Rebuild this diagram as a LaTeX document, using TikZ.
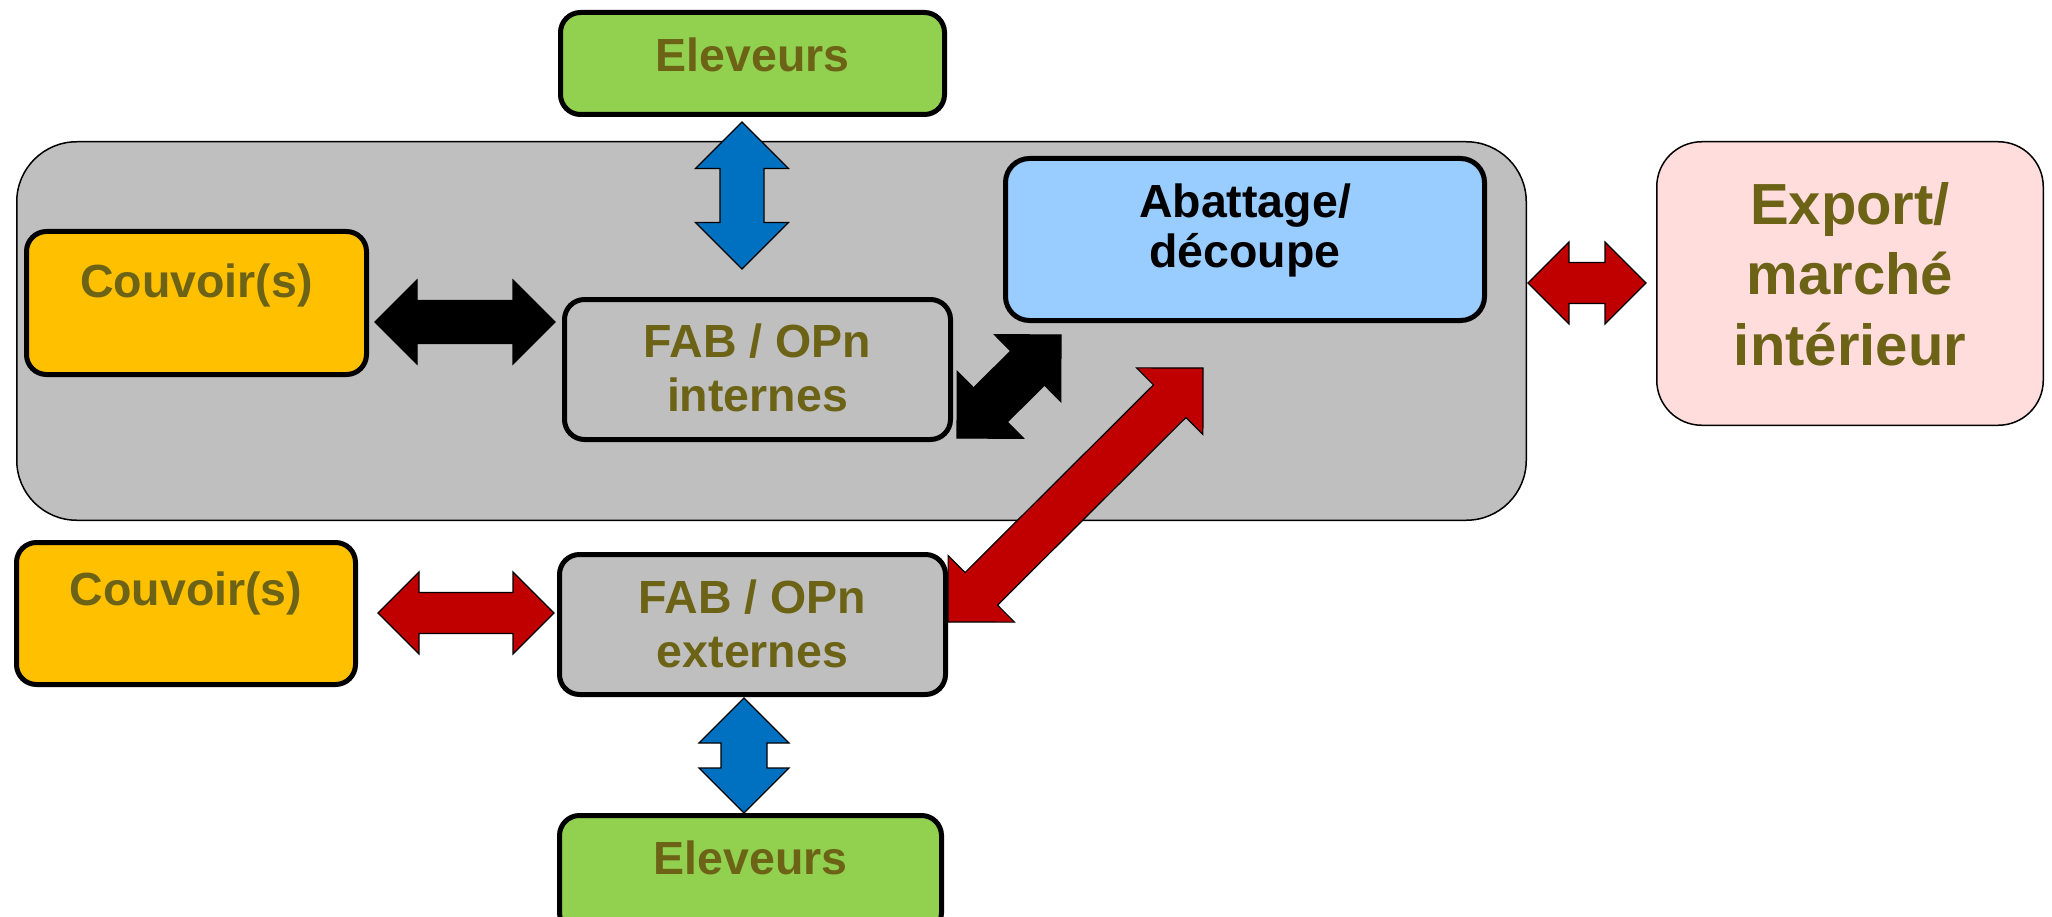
\documentclass[tikz,border=0pt]{standalone}
\usepackage{fontspec}
\setmainfont{Liberation Sans}
\usetikzlibrary{calc}
\definecolor{txtolive}{RGB}{108,99,22}
\definecolor{coregray}{RGB}{191,191,191}
\definecolor{boxgreen}{RGB}{146,208,80}
\definecolor{boxorange}{RGB}{255,192,0}
\definecolor{boxblue}{RGB}{153,204,255}
\definecolor{boxpink}{RGB}{255,221,221}
\definecolor{arrblue}{RGB}{0,112,192}
\definecolor{arrred}{RGB}{192,0,0}
% double block arrow between two named coordinates: style, A, B, half head width, half shaft width
\newcommand\dblockarrow[5]{%
  \draw[#1] (#2) -- ($(#2)!#4!(#3)!#4!90:(#3)$) -- ($(#2)!#4!(#3)!#5!90:(#3)$)
    -- ($(#3)!#4!(#2)!#5!-90:(#2)$) -- ($(#3)!#4!(#2)!#4!-90:(#2)$) -- (#3)
    -- ($(#3)!#4!(#2)!#4!90:(#2)$) -- ($(#3)!#4!(#2)!#5!90:(#2)$)
    -- ($(#2)!#4!(#3)!#5!-90:(#3)$) -- ($(#2)!#4!(#3)!#4!-90:(#3)$) -- cycle;}
\begin{document}
\begin{tikzpicture}[x=1pt,y=-1pt,
  box/.style={draw=black, line width=5pt, rounded corners=20pt, inner sep=0pt},
  thinbox/.style={draw=black, line width=1.5pt, inner sep=0pt},
  lbl/.style={text=txtolive, font=\bfseries\fontsize{46.5}{54}\selectfont, align=center, inner sep=0pt, anchor=base},
  arr/.style={draw=black, line width=1.2pt, line join=miter}]
\useasboundingbox (0,0) rectangle (2052,917);
\clip (0,0) rectangle (2052,917);
\fill[white] (0,0) rectangle (2052,917);

% containers
\node[thinbox, fill=coregray, rounded corners=60pt, minimum width=1509.5pt, minimum height=378.5pt] (core) at (771.5,331) {};
\node[thinbox, fill=boxpink, rounded corners=45pt, minimum width=386.5pt, minimum height=283.5pt] (export) at (1850,283.5) {};

% boxes
\node[box, fill=boxgreen, minimum width=384pt, minimum height=102pt] (eleTop) at (752.5,63.5) {};
\node[box, fill=boxorange, minimum width=340pt, minimum height=143pt] (couv1) at (196.5,303) {};
\node[box, fill=coregray, minimum width=386pt, minimum height=140pt] (fabInt) at (757.5,369.5) {};
\node[box, fill=boxblue, rounded corners=24pt, minimum width=479pt, minimum height=162pt] (abat) at (1245,239.5) {};
\node[box, fill=boxorange, minimum width=339pt, minimum height=142pt] (couv2) at (186,613.5) {};
\node[box, fill=coregray, minimum width=386pt, minimum height=140pt] (fabExt) at (752.5,624.5) {};
\node[box, fill=boxgreen, minimum width=382pt, minimum height=117pt] (eleBot) at (750.5,874) {};

% labels (base anchor = baseline of the last line)
\node[lbl] (eleTopT) at (752.5,72) {Eleveurs};
\node[lbl] (couv1T) at (196.5,297) {Couvoir(s)};
\node[lbl] (fabIntT) at (757.5,411) {FAB / OPn\\internes};
\node[lbl, text=black, font=\bfseries\fontsize{46.5}{50}\selectfont] (abatT) at (1245,268) {Abattage/\\découpe};
\node[lbl, font=\bfseries\fontsize{58}{70.5}\selectfont] (exportT) at (1850,365) {Export/\\marché\\intérieur};
\node[lbl] (couv2T) at (186,605) {Couvoir(s)};
\node[lbl] (fabExtT) at (752.5,667) {FAB / OPn\\externes};
\node[lbl] (eleBotT) at (750.5,874) {Eleveurs};

% arrow end points
\coordinate (bt1) at (742,122);  \coordinate (bt2) at (742,269);
\coordinate (kh1) at (375,322);  \coordinate (kh2) at (555,322);
\coordinate (kd1) at (957,438);  \coordinate (kd2) at (1061,335);
\coordinate (rd1) at (948,622);  \coordinate (rd2) at (1203,368);
\coordinate (rr1) at (1528,283); \coordinate (rr2) at (1646,283);
\coordinate (rb1) at (378,613);  \coordinate (rb2) at (554,613);
\coordinate (bb1) at (744,698);  \coordinate (bb2) at (744,813);

% block arrows
\dblockarrow{arr, fill=arrblue}{bt1}{bt2}{46.5pt}{22pt}
\dblockarrow{arr, fill=black}{kh1}{kh2}{42pt}{21.5pt}
\dblockarrow{arr, fill=black}{kd1}{kd2}{47pt}{24pt}
\dblockarrow{arr, fill=arrred}{rd1}{rd2}{47pt}{23pt}
\dblockarrow{arr, fill=arrred}{rr1}{rr2}{41pt}{20.5pt}
\dblockarrow{arr, fill=arrred}{rb1}{rb2}{41pt}{20.5pt}
\dblockarrow{arr, fill=arrblue}{bb1}{bb2}{45pt}{23pt}
\end{tikzpicture}
\end{document}
